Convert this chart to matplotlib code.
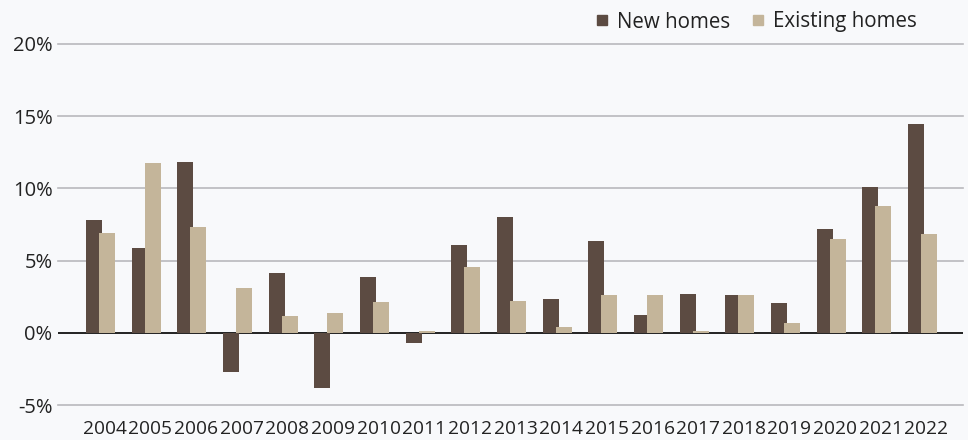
import matplotlib.pyplot as plt
from matplotlib.lines import Line2D
import numpy as np

plt.rcParams['font.family'] = ['Open Sans', 'DejaVu Sans']

# Datos
years = [str(y) for y in range(2004, 2023)]
new_homes = [7.8, 5.9, 11.8, -2.7, 4.15, -3.8, 3.87, -0.74, 6.08, 8.02,
             2.35, 6.36, 1.24, 2.70, 2.63, 2.07, 7.19, 10.09, 14.45]
existing_homes = [6.9, 11.75, 7.33, 3.11, 1.18, 1.38, 2.14, 0.12, 4.56, 2.21,
                  0.41, 2.63, 2.63, 0.12, 2.63, 0.69, 6.50, 8.78, 6.84]
yticks = [-5, 0, 5, 10, 15, 20]

dark = '#5c4b42'
tan = '#c4b59a'
bg = '#f8f9fb'
txt = '#222222'

fig = plt.figure(figsize=(9.68, 4.4), dpi=100, facecolor=bg)
ax = fig.add_axes([58 / 968, 35 / 440, 905 / 968, 361 / 440])
ax.set_facecolor(bg)

x = np.arange(len(years))
w = 0.35
off = 0.142
ax.bar(x - off, new_homes, width=w, color=dark, zorder=3)
ax.bar(x + off, existing_homes, width=w, color=tan, zorder=4)

ax.set_xlim(-0.93, 18.89)
ax.set_ylim(-5, 20)
ax.set_yticks(yticks)
ax.set_yticklabels([f'{v}%' for v in yticks])
ax.set_xticks(x + 0.09)
ax.set_xticklabels(years)

for v in yticks:
    if v == 0:
        ax.axhline(0, color='#111111', lw=1.3, zorder=2)
    else:
        ax.axhline(v, color='#b9b9bd', lw=1.2, zorder=1, clip_on=False)

for s in ax.spines.values():
    s.set_visible(False)
ax.tick_params(axis='both', length=0, colors=txt)
ax.tick_params(axis='y', pad=4, labelsize=14.5)
ax.tick_params(axis='x', pad=11, labelsize=13.8)

handles = [Line2D([], [], marker='s', ls='', color=dark, markersize=6.5),
           Line2D([], [], marker='s', ls='', color=tan, markersize=6.5)]
fig.legend(handles, ['New homes', 'Existing homes'], loc='center right',
           bbox_to_anchor=(917 / 968, 1 - 22 / 440), ncol=2, frameon=False,
           fontsize=14.8, handlelength=0.7, handletextpad=0.4, columnspacing=1.0,
           labelcolor=txt, borderaxespad=0, borderpad=0)

fig.savefig('out.png', dpi=100, facecolor=bg)
